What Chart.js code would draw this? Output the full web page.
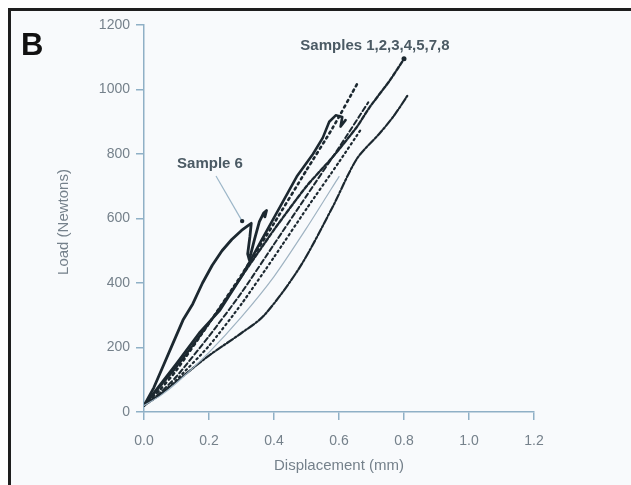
<!DOCTYPE html>
<html>
<head>
<meta charset="utf-8">
<script src="https://cdn.jsdelivr.net/npm/chart.js@4.4.1/dist/chart.umd.min.js"></script>
<style>
  html, body { margin: 0; padding: 0; background: #ffffff; }
  #wrap { width: 631px; height: 485px; }
</style>
</head>
<body>
<div id="wrap"><canvas id="myChart" width="631" height="485"></canvas></div>
<script>
// tick values
const loadTicks = [0, 200, 400, 600, 800, 1000, 1200];
const dispTicks = [0, 0.2, 0.4, 0.6, 0.8, 1.0, 1.2];

// Sample 6 (mm / N)
const sample6Disp = [0, 0.03, 0.06, 0.09, 0.12, 0.15, 0.18, 0.21, 0.24, 0.27, 0.30, 0.32, 0.33, 0.326, 0.319, 0.324, 0.34, 0.355, 0.368, 0.377, 0.372];
const sample6Load = [20, 75, 145, 215, 285, 335, 400, 455, 500, 535, 563, 578, 585, 545, 490, 472, 535, 590, 617, 625, 605];

// samples 1,2,3,4,5,7,8
const curveADisp = [0, 0.05, 0.1, 0.2, 0.3, 0.4, 0.5, 0.58, 0.655, 0.695, 0.757, 0.80];
const curveALoad = [20, 80, 140, 275, 420, 565, 700, 790, 884, 946, 1029, 1095];

const curveBDisp = [0, 0.05, 0.1, 0.2, 0.3, 0.37, 0.48, 0.58, 0.655, 0.726, 0.77, 0.81];
const curveBLoad = [20, 55, 95, 175, 245, 300, 450, 635, 785, 865, 920, 980];

const curveCDisp = [0, 0.05, 0.1, 0.2, 0.3, 0.4, 0.5, 0.58, 0.66];
const curveCLoad = [20, 70, 130, 275, 425, 585, 750, 880, 1025];

const curveDDisp = [0, 0.05, 0.1, 0.2, 0.3, 0.4, 0.5, 0.6, 0.69];
const curveDLoad = [20, 60, 110, 235, 370, 520, 670, 820, 960];

const curveEDisp = [0, 0.05, 0.1, 0.17, 0.234, 0.30, 0.36, 0.43, 0.47, 0.52, 0.55, 0.57, 0.59, 0.61, 0.605, 0.62];
const curveELoad = [20, 85, 150, 245, 316, 420, 530, 657, 730, 800, 850, 900, 920, 915, 885, 905];

const curveFDisp = [0, 0.05, 0.1, 0.2, 0.3, 0.4, 0.5, 0.6, 0.67];
const curveFLoad = [20, 55, 100, 205, 335, 480, 630, 775, 880];

const curveGDisp = [0, 0.05, 0.1, 0.2, 0.3, 0.4, 0.5, 0.6];
const curveGLoad = [20, 50, 90, 185, 295, 420, 570, 730];

function pts(xs, ys) {
	return xs.map((x, i) => ({ x: x, y: ys[i] }));
}

const ink = '#1c2830';

const series = [
	{ d: curveGDisp, l: curveGLoad, color: '#9fb3c2', width: 1.2, dash: [], t: 0.2 },
	{ d: curveFDisp, l: curveFLoad, color: ink, width: 2.2, dash: [1.5, 3.5], t: 0.2 },
	{ d: curveDDisp, l: curveDLoad, color: ink, width: 2, dash: [5, 3], t: 0.2 },
	{ d: curveCDisp, l: curveCLoad, color: ink, width: 2.6, dash: [2, 4], t: 0.2 },
	{ d: curveBDisp, l: curveBLoad, color: ink, width: 2.2, dash: [7, 2, 2, 2], t: 0.3 },
	{ d: curveADisp, l: curveALoad, color: ink, width: 2.4, dash: [4, 2], t: 0.2 },
	{ d: curveEDisp, l: curveELoad, color: ink, width: 2.6, dash: [], t: 0 },
	{ d: sample6Disp, l: sample6Load, color: ink, width: 2.8, dash: [], t: 0 }
];

const axisColor = '#8fb0c6';
const textGray = '#75818b';

const framePlugin = {
	id: 'frame',
	beforeDraw(chart) {
		const ctx = chart.ctx;
		ctx.save();
		ctx.fillStyle = '#ffffff';
		ctx.fillRect(0, 0, chart.width, chart.height);
		ctx.fillStyle = '#f8fafc';
		ctx.fillRect(10, 10, chart.width - 10, chart.height - 10);
		ctx.restore();
	},
	afterDraw(chart) {
		const ctx = chart.ctx;
		const xs = chart.scales.x;
		const ys = chart.scales.y;
		ctx.save();
		// frame
		ctx.fillStyle = '#1e1e1e';
		ctx.fillRect(8, 8, chart.width - 8, 3);
		ctx.fillRect(8, 8, 3, chart.height - 8);

		// panel letter
		ctx.fillStyle = '#111111';
		ctx.font = 'bold 31px "Liberation Sans", Arial, sans-serif';
		ctx.textBaseline = 'alphabetic';
		ctx.fillText('B', 21, 55);

		// axis titles
		ctx.fillStyle = textGray;
		ctx.font = '15px "Liberation Sans", Arial, sans-serif';
		ctx.textAlign = 'center';
		ctx.textBaseline = 'middle';
		ctx.fillText('Displacement (mm)', 339, 466);
		ctx.save();
		ctx.translate(64, 222);
		ctx.rotate(-Math.PI / 2);
		ctx.fillText('Load (Newtons)', 0, 0);
		ctx.restore();

		// annotations
		ctx.fillStyle = '#4b5a64';
		ctx.font = 'bold 15px "Liberation Sans", Arial, sans-serif';
		ctx.fillText('Samples 1,2,3,4,5,7,8', 375, 46);
		ctx.fillText('Sample 6', 210, 164);

		// Sample 6 leader
		const tipX = xs.getPixelForValue(0.302);
		const tipY = ys.getPixelForValue(592);
		ctx.strokeStyle = '#9cb6c8';
		ctx.lineWidth = 1.2;
		ctx.beginPath();
		ctx.moveTo(216, 176);
		ctx.lineTo(tipX, tipY);
		ctx.stroke();
		ctx.fillStyle = ink;
		ctx.beginPath();
		ctx.arc(tipX, tipY, 2.2, 0, Math.PI * 2);
		ctx.fill();

		// end dot of top curve
		const n = curveADisp.length - 1;
		ctx.beginPath();
		ctx.arc(xs.getPixelForValue(curveADisp[n]), ys.getPixelForValue(curveALoad[n]), 2.5, 0, Math.PI * 2);
		ctx.fill();
		ctx.restore();
	}
};

new Chart(document.getElementById('myChart'), {
	type: 'scatter',
	data: {
		datasets: series.map(s => ({
			data: pts(s.d, s.l),
			showLine: true,
			borderColor: s.color,
			borderWidth: s.width,
			borderDash: s.dash,
			borderCapStyle: 'round',
			borderJoinStyle: 'round',
			pointRadius: 0,
			tension: s.t
		}))
	},
	options: {
		responsive: false,
		animation: false,
		devicePixelRatio: 1,
		layout: { padding: { left: 40, top: 25, right: 97, bottom: 0 } },
		plugins: { legend: { display: false }, tooltip: { enabled: false } },
		scales: {
			x: {
				type: 'linear',
				min: 0,
				max: 1.2,
				afterBuildTicks: scale => { scale.ticks = dispTicks.map(v => ({ value: v })); },
				afterFit: scale => { scale.height = 73; },
				ticks: {
					color: textGray,
					font: { family: '"Liberation Sans", Arial, sans-serif', size: 14 },
					padding: 13,
					callback: v => v.toFixed(1)
				},
				grid: { drawOnChartArea: false, drawTicks: true, tickLength: 8, color: axisColor, lineWidth: 1.5 },
				border: { color: axisColor, width: 1.5 }
			},
			y: {
				type: 'linear',
				min: 0,
				max: 1200,
				afterBuildTicks: scale => { scale.ticks = loadTicks.map(v => ({ value: v })); },
				afterFit: scale => { scale.width = 104; },
				ticks: {
					color: textGray,
					font: { family: '"Liberation Sans", Arial, sans-serif', size: 14 },
					padding: 6,
					callback: v => String(v)
				},
				grid: { drawOnChartArea: false, drawTicks: true, tickLength: 8, color: axisColor, lineWidth: 1.5 },
				border: { color: axisColor, width: 1.5 }
			}
		}
	},
	plugins: [framePlugin]
});
</script>
</body>
</html>
